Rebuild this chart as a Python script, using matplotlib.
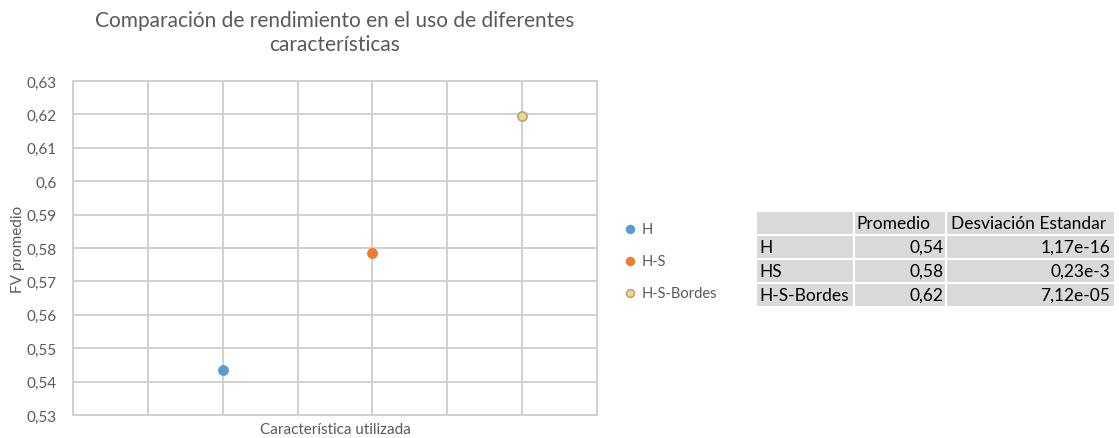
import matplotlib
matplotlib.use("Agg")
from matplotlib import pyplot as plt
from matplotlib.ticker import FuncFormatter
import numpy as np

# series: one point per feature set
categories = ["H", "H-S", "H-S-Bordes"]
x_pos = [1, 2, 3]
fv_mean = [0.5435, 0.5785, 0.6195]
colors = ["#5B9BD5", "#ED7D31", "#FFD966"]
edges = ["#5B9BD5", "#ED7D31", "#A5A5A5"]

# summary table
row_names = ["H", "HS", "H-S-Bordes"]
promedio = ["0,54", "0,58", "0,62"]
desviacion = ["1,17e-16", "0,23e-3", "7,12e-05"]
col_names = ["", "Promedio", "Desviación Estandar"]

plt.rcParams["font.family"] = ["Lato", "DejaVu Sans"]
txt = "#595959"
grid = "#D0D0D0"

fig = plt.figure(figsize=(11.19, 4.39), dpi=100)
ax = fig.add_axes([73/1119, 1-416/439, (597-73)/1119, (416-82)/439])

for x, y, c, e, lab in zip(x_pos, fv_mean, colors, edges, categories):
    ax.scatter([x], [y], s=44, color=c, edgecolors=e, linewidths=1.2, zorder=3, label=lab)

ax.set_xlim(0, 3.5)
ax.set_ylim(0.53, 0.63)
ax.set_xticks(np.arange(0, 3.51, 0.5))
ax.set_xticklabels([])
ax.set_yticks(np.arange(0.53, 0.6301, 0.01))

def comma(v, pos):
    s = f"{v:.2f}".rstrip("0").rstrip(".")
    return s.replace(".", ",")

ax.yaxis.set_major_formatter(FuncFormatter(comma))
ax.tick_params(length=0, labelsize=11, labelcolor=txt)
ax.tick_params(axis="y", pad=12)
ax.grid(True, color=grid, linewidth=1.4)
ax.set_axisbelow(True)
for sp in ax.spines.values():
    sp.set_color(grid)
    sp.set_linewidth(1.4)

ax.set_xlabel("Característica utilizada", fontsize=11, color=txt, va="center")
ax.xaxis.set_label_coords(0.5, -14/334)
ax.set_ylabel("FV promedio", fontsize=11, color=txt, va="center")
ax.yaxis.set_label_coords(-55/524, 0.5)

fig.text(335/1119, 1-33/439, "Comparación de rendimiento en el uso de diferentes\ncaracterísticas",
         ha="center", va="center", fontsize=15, color=txt, linespacing=1.25)

leg = ax.legend(loc="center left", bbox_to_anchor=(602/1119, 1-262/439),
                bbox_transform=fig.transFigure, frameon=False, fontsize=10.5,
                labelspacing=1.25, handletextpad=-0.2, markerscale=0.85)
for t in leg.get_texts():
    t.set_color(txt)

# table drawn in its own axes
tax = fig.add_axes([756/1119, 1-308/439, (1115-756)/1119, (308-212)/439])
tax.axis("off")
cell_text = [[r, p, d] for r, p, d in zip(row_names, promedio, desviacion)]
tbl = tax.table(cellText=cell_text, colLabels=col_names,
                colWidths=[98, 92, 169], bbox=[0, 0, 1, 1])
tbl.auto_set_font_size(False)
for (r, c), cell in tbl.get_celld().items():
    cell.set_facecolor("#D9D9D9")
    cell.set_edgecolor("white")
    cell.set_linewidth(1.5)
    cell.get_text().set_fontsize(12.5)
    cell.get_text().set_color("black")
    cell.PAD = 0.03
    if r == 0 or c == 0:
        cell._loc = "left"
        cell.get_text().set_ha("left")
    else:
        cell._loc = "right"
        cell.get_text().set_ha("right")

fig.savefig("out.png", dpi=100)
